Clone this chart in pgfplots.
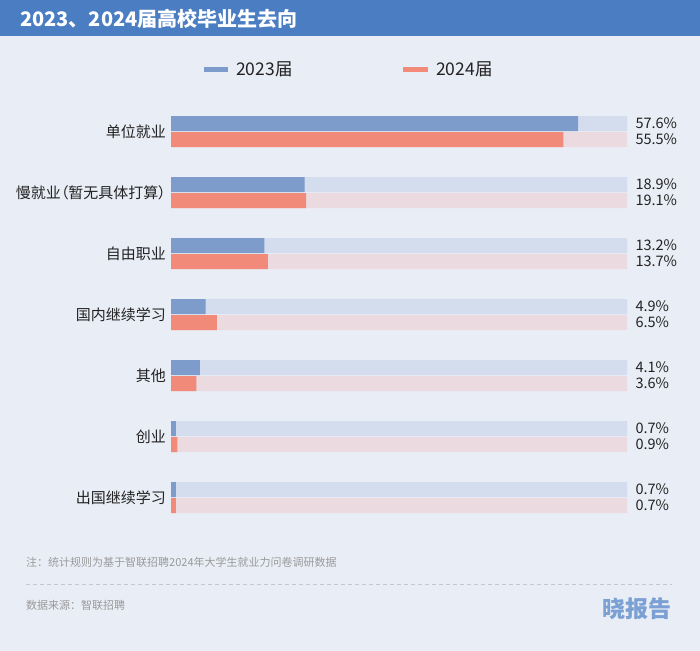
\documentclass[border=0pt]{standalone}
\usepackage{fontspec}
\setmainfont{Noto Sans CJK SC}
\newfontfamily\cjkp{Noto Sans CJK SC}[RawFeature=+palt]
\usepackage{pgfplots}
\pgfplotsset{compat=1.18}
\definecolor{bgc}{HTML}{E9EDF5}
\definecolor{titlec}{HTML}{4A7DC1}
\definecolor{c23}{HTML}{7E9CCB}
\definecolor{c24}{HTML}{F28A7A}
\definecolor{t23}{HTML}{D3DDEE}
\definecolor{t24}{HTML}{EBDADF}
\definecolor{textc}{HTML}{222222}
\definecolor{notec}{HTML}{9A9A9A}
\definecolor{logoc}{HTML}{7BA0D3}
\definecolor{dashc}{HTML}{C2C7D0}
\newcommand\fs[1]{\fontsize{#1bp}{#1bp}\selectfont}
\begin{document}
\begin{tikzpicture}[x=1bp,y=-1bp]
\useasboundingbox (0,0) rectangle (700,651);
\fill[bgc] (0,0) rectangle (700,651);
\fill[titlec] (0,0) rectangle (700,36);
\node[anchor=west, text=white, font=\bfseries\fs{20}, inner sep=0] at (20,18.5) {2023、2024届高校毕业生去向};
% legend
\fill[c23] (204,67) rectangle (228,72);
\node[anchor=west, inner sep=0, text=textc, font=\fs{17.5}] at (236,69.5) {2023届};
\fill[c24] (403,67) rectangle (428,72);
\node[anchor=west, inner sep=0, text=textc, font=\fs{17.5}] at (436,69.5) {2024届};
\begin{axis}[
  at={(171bp,-100bp)}, anchor=north west,
  scale only axis, width=456bp, height=420bp,
  xmin=0, xmax=64.5, ymin=100, ymax=520, y dir=reverse,
  axis line style={draw=none},
  xtick=\empty,
  ytick={131.5,192.5,253.5,314.5,375.5,436.5,497.5},
  yticklabels={单位就业,慢就业（暂无具体打算）,自由职业,国内继续学习,其他,创业,出国继续学习},
  major tick length=0pt,
  yticklabel style={font=\cjkp\fs{15}, text=textc, inner sep=0pt, xshift=-5bp},
  xbar, bar width=15, bar shift=0pt,
  clip=false,
]
\addplot[fill=t23, draw=none, nodes near coords, point meta=explicit symbolic,
  every node near coord/.append style={anchor=west, xshift=5bp, font=\fs{14.5}, text=textc}]
  coordinates {(64.5,123.5)[57.6\%] (64.5,184.5)[18.9\%] (64.5,245.5)[13.2\%] (64.5,306.5)[4.9\%] (64.5,367.5)[4.1\%] (64.5,428.5)[0.7\%] (64.5,489.5)[0.7\%]};
\addplot[fill=t24, draw=none, nodes near coords, point meta=explicit symbolic,
  every node near coord/.append style={anchor=west, xshift=5bp, font=\fs{14.5}, text=textc}]
  coordinates {(64.5,139.5)[55.5\%] (64.5,200.5)[19.1\%] (64.5,261.5)[13.7\%] (64.5,322.5)[6.5\%] (64.5,383.5)[3.6\%] (64.5,444.5)[0.9\%] (64.5,505.5)[0.7\%]};
\addplot[fill=c23, draw=none] coordinates {(57.6,123.5) (18.9,184.5) (13.2,245.5) (4.9,306.5) (4.1,367.5) (0.7,428.5) (0.7,489.5)};
\addplot[fill=c24, draw=none] coordinates {(55.5,139.5) (19.1,200.5) (13.7,261.5) (6.5,322.5) (3.6,383.5) (0.9,444.5) (0.7,505.5)};
\end{axis}
\node[anchor=west, inner sep=0, text=notec, font=\fs{11}] at (26,562) {注：统计规则为基于智联招聘2024年大学生就业力问卷调研数据};
\draw[dashc, line width=0.8bp, dash pattern=on 3.5bp off 3.5bp] (26,584) -- (672,584);
\node[anchor=west, inner sep=0, text=notec, font=\fs{11}] at (26,605) {数据来源：智联招聘};
\node[anchor=east, inner sep=0, text=logoc, font=\bfseries\fs{23}] at (672,609) {晓报告};
\end{tikzpicture}
\end{document}
